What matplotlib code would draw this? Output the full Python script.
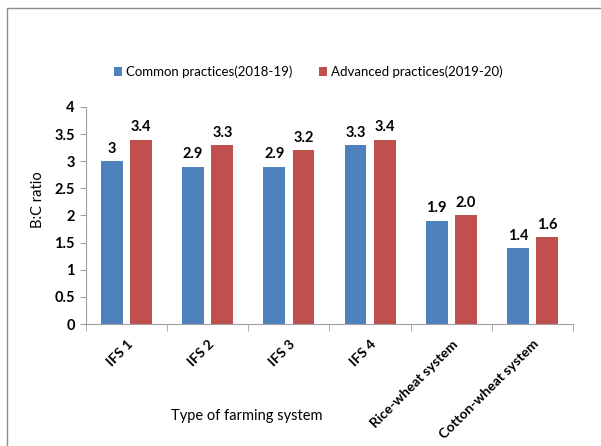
import numpy as np
import matplotlib.pyplot as plt
from matplotlib.patches import Rectangle

systems = ["IFS 1", "IFS 2", "IFS 3", "IFS 4", "Rice-wheat system", "Cotton-wheat system"]
common = [3.0, 2.9, 2.9, 3.3, 1.9, 1.4]
advanced = [3.4, 3.3, 3.2, 3.4, 2.0, 1.6]
common_labels = ["3", "2.9", "2.9", "3.3", "1.9", "1.4"]
advanced_labels = ["3.4", "3.3", "3.2", "3.4", "2.0", "1.6"]
y_ticks = [0, 0.5, 1, 1.5, 2, 2.5, 3, 3.5, 4]
y_tick_labels = ["0", "0.5", "1", "1.5", "2", "2.5", "3", "3.5", "4"]

plt.rcParams['font.family'] = ['Lato', 'DejaVu Sans']

fig = plt.figure(figsize=(6.01, 4.46), dpi=100)
fig.patches.append(Rectangle((7 / 601, -0.1), 1.2, 1 - 8 / 446 + 0.1,
                             transform=fig.transFigure, fill=False,
                             edgecolor="#8c8c8c", linewidth=1.0))

ax = fig.add_axes([86 / 601, 1 - 324 / 446, (573 - 86) / 601, (324 - 107) / 446])

x = np.arange(len(systems))
width = 0.27
offset = 0.18
b1 = ax.bar(x - offset, common, width, color="#4F81BD", label="Common practices(2018-19)")
b2 = ax.bar(x + offset, advanced, width, color="#C0504D", label="Advanced practices(2019-20)")

for rect, txt in zip(b1, common_labels):
    ax.text(rect.get_x() + rect.get_width() / 2, rect.get_height() + 0.1, txt,
            ha="center", va="bottom", fontsize=10.5, fontweight="bold")
for rect, txt in zip(b2, advanced_labels):
    ax.text(rect.get_x() + rect.get_width() / 2, rect.get_height() + 0.1, txt,
            ha="center", va="bottom", fontsize=10.5, fontweight="bold")

ax.set_xlim(-0.5, len(systems) - 0.5)
ax.set_ylim(0, 4)
ax.set_yticks(y_ticks)
ax.set_yticklabels(y_tick_labels, fontsize=10.5, fontweight="bold")

# category labels sit at bar centres, tick marks between categories
ax.set_xticks(x)
ax.set_xticklabels(systems, rotation=45, ha="right", rotation_mode="anchor",
                   fontsize=10, fontweight="bold")
ax.tick_params(axis="x", length=0, pad=10)
ax.set_xticks(np.arange(len(systems) + 1) - 0.5, minor=True)
ax.tick_params(axis="x", which="minor", length=5, color="#a0a0a0", direction="out")
ax.tick_params(axis="y", length=4, color="#a0a0a0", direction="out", pad=4)

for side in ["top", "right"]:
    ax.spines[side].set_visible(False)
for side in ["left", "bottom"]:
    ax.spines[side].set_color("#a0a0a0")

fig.text(247 / 601, 1 - 416 / 446, "Type of farming system", ha="center", va="center", fontsize=10.5)
fig.text(38 / 601, 1 - 200 / 446, "B:C ratio", ha="center", va="center", rotation=90, fontsize=10.5)

fig.legend(handles=[b1, b2], loc="center left", bbox_to_anchor=(114 / 601, 1 - 72 / 446),
           ncol=2, frameon=False, fontsize=9.5, handlelength=0.6, handleheight=0.6,
           handletextpad=0.3, columnspacing=2.0, borderaxespad=0, borderpad=0)

fig.savefig("out.png", dpi=100)
